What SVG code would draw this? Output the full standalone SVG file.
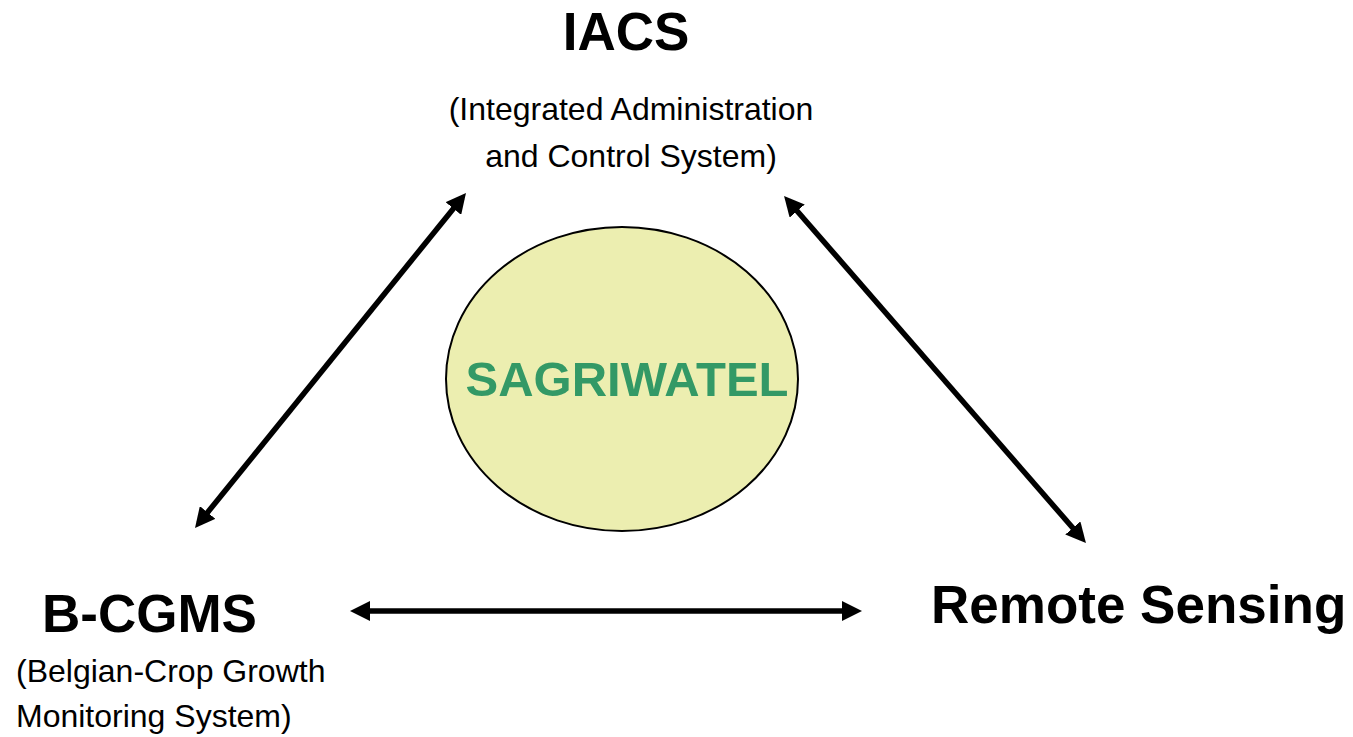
<svg xmlns="http://www.w3.org/2000/svg" width="1353" height="737" viewBox="0 0 1353 737">
<style>
.title{font-family:"Liberation Sans",Arial,sans-serif;font-weight:bold;font-size:53px;fill:#000}
.sub{font-family:"Liberation Sans",Arial,sans-serif;font-size:32px;fill:#000}
.center{font-family:"Liberation Sans",Arial,sans-serif;font-weight:bold;font-size:49px;fill:#339966}
.conn{stroke:#000;stroke-width:5.5;fill:none;marker-start:url(#ah);marker-end:url(#ah)}
</style>
<defs>
<marker id="ah" viewBox="0 0 20 20" refX="14" refY="10" markerWidth="20" markerHeight="20" markerUnits="userSpaceOnUse" orient="auto-start-reverse">
<path d="M0,0 L20,10 L0,20 z" fill="#000"/>
</marker>
</defs>
<rect width="1353" height="737" fill="#fff"/>
<g id="sagriwatel">
<ellipse cx="622" cy="379" rx="176" ry="152" fill="#ECEEB0" stroke="#000" stroke-width="2"/>
<text class="center" x="627" y="396" text-anchor="middle">SAGRIWATEL</text>
</g>
<g id="iacs">
<text class="title" x="626" y="50" text-anchor="middle">IACS</text>
<text class="sub" x="631" y="120" text-anchor="middle">(Integrated Administration</text>
<text class="sub" x="631" y="167" text-anchor="middle">and Control System)</text>
</g>
<g id="bcgms">
<text class="title" x="42" y="632">B-CGMS</text>
<text class="sub" x="16" y="682">(Belgian-Crop Growth</text>
<text class="sub" x="16" y="727">Monitoring System)</text>
</g>
<g id="remote-sensing">
<text class="title" x="931" y="623">Remote Sensing</text>
</g>
<g id="connectors">
<line class="conn" x1="198.8" y1="523.3" x2="462.2" y2="197.7"/>
<line class="conn" x1="788" y1="200.5" x2="1082" y2="538.5"/>
<line class="conn" x1="356" y1="611" x2="856" y2="611"/>
</g>
</svg>
